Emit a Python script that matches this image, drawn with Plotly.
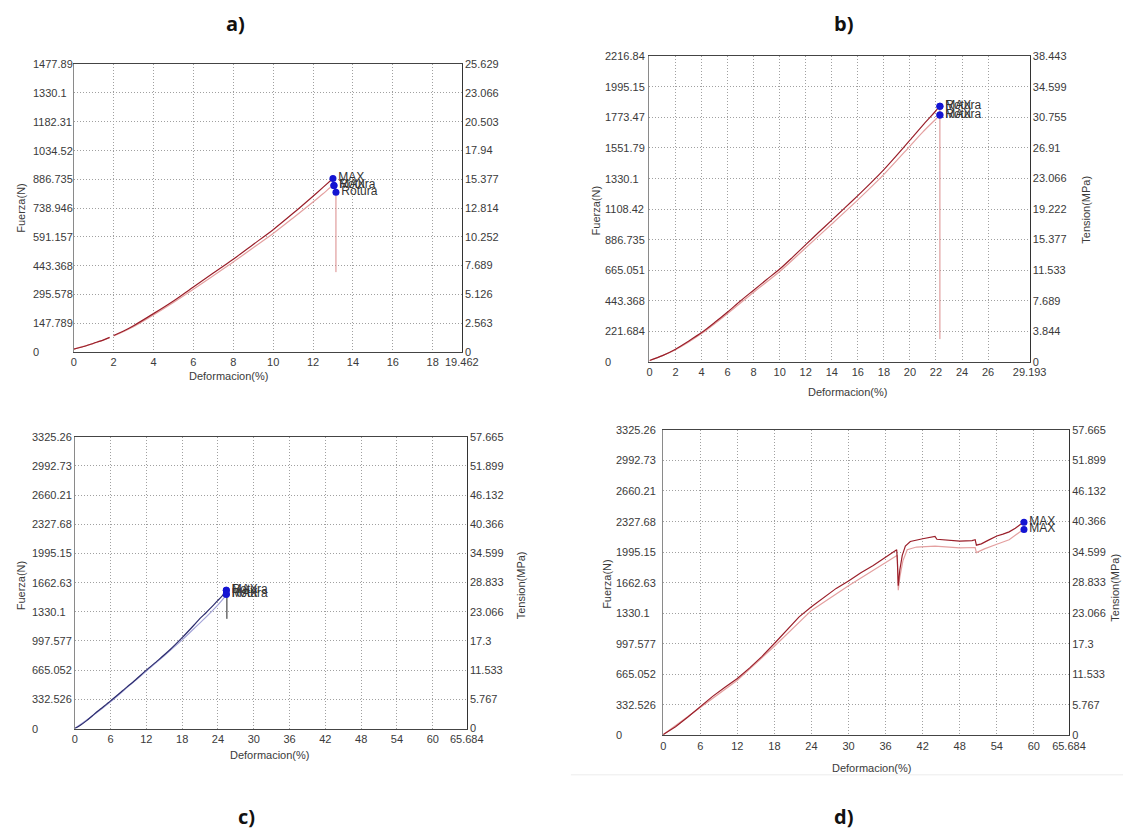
import plotly.graph_objects as go

W, H = 1140, 839

# ---------------- DATA ----------------
# Panel a
a_x_ticks = [0, 2, 4, 6, 8, 10, 12, 14, 16, 18, 19.462]
a_x_text = ["0", "2", "4", "6", "8", "10", "12", "14", "16", "18", "19.462"]
a_yl_text = ["0", "147.789", "295.578", "443.368", "591.157", "738.946", "886.735",
             "1034.52", "1182.31", "1330.1", "1477.89"]
a_yr_text = ["0", "2.563", "5.126", "7.689", "10.252", "12.814", "15.377", "17.94",
             "20.503", "23.066", "25.629"]
a_c1_x = [0, 0.5, 1, 1.5, 1.8, None, 2.0, 2.5, 3, 4, 5, 6, 7, 8, 9, 10, 11, 12, 12.5, 13.0]
a_c1_y = [15, 28, 45, 62, 75, None, 85, 108, 135, 197, 262, 334, 405, 476, 552, 628, 712, 800, 845, 891]
a_c2_x = [0, 1, 1.8, None, 2.0, 3, 4, 5, 6, 7, 8, 9, 10, 11, 12, 12.5, 13.05, 13.15]
a_c2_y = [15, 44, 73, None, 82, 130, 190, 254, 322, 392, 462, 535, 608, 688, 770, 812, 855, 820]
a_drop_x = [13.15, 13.15]
a_drop_y = [820, 410]
a_pts_x = [13.0, 13.05, 13.05, 13.15]
a_pts_y = [891, 855, 855, 820]
a_pts_lbl = ["MAX", "Rotura", "MAX", "Rotura"]

# Panel b
b_x_ticks = [0, 2, 4, 6, 8, 10, 12, 14, 16, 18, 20, 22, 24, 26, 29.193]
b_x_text = ["0", "2", "4", "6", "8", "10", "12", "14", "16", "18", "20", "22", "24", "26", "29.193"]
b_yl_text = ["0", "221.684", "443.368", "665.051", "886.735", "1108.42", "1330.1",
             "1551.79", "1773.47", "1995.15", "2216.84"]
b_yr_text = ["0", "3.844", "7.689", "11.533", "15.377", "19.222", "23.066", "26.91",
             "30.755", "34.599", "38.443"]
b_c1_x = [0, 1, 2, 3, 4, 5, 6, 7, 8, 9, 10, 11, 12, 13, 14, 15, 16, 17, 18, 19, 20, 21, 22, 22.25]
b_c1_y = [10, 45, 92, 150, 212, 285, 362, 443, 520, 597, 673, 760, 850, 940, 1028, 1117,
          1206, 1298, 1395, 1500, 1608, 1718, 1822, 1855]
b_c2_x = [0, 2, 4, 6, 8, 10, 12, 14, 16, 18, 20, 21, 22, 22.3]
b_c2_y = [8, 88, 205, 350, 505, 655, 828, 1000, 1175, 1360, 1565, 1668, 1762, 1790]
b_drop_x = [22.3, 22.3]
b_drop_y = [1855, 165]
b_pts_x = [22.3, 22.3, 22.3, 22.3]
b_pts_y = [1855, 1855, 1790, 1790]
b_pts_lbl = ["Rotura", "MAX", "Rotura", "MAX"]

# Panels c & d share scales
cd_x_ticks = [0, 6, 12, 18, 24, 30, 36, 42, 48, 54, 60, 65.684]
cd_x_text = ["0", "6", "12", "18", "24", "30", "36", "42", "48", "54", "60", "65.684"]
cd_yl_text = ["0", "332.526", "665.052", "997.577", "1330.1", "1662.63", "1995.15",
              "2327.68", "2660.21", "2992.73", "3325.26"]
cd_yr_text = ["0", "5.767", "11.533", "17.3", "23.066", "28.833", "34.599", "40.366",
              "46.132", "51.899", "57.665"]

c_c1_x = [0, 1, 2, 3, 4, 6, 8, 10, 12, 14, 16, 18, 20, 21, 22, 23, 24, 25, 25.4]
c_c1_y = [0, 40, 90, 148, 205, 315, 430, 545, 665, 780, 900, 1035, 1180, 1255, 1320, 1390, 1460, 1535, 1576]
c_c2_x = [0, 3, 6, 9, 12, 15, 18, 20, 22, 24, 25, 25.4]
c_c2_y = [0, 145, 305, 480, 655, 830, 1010, 1140, 1270, 1410, 1490, 1531]
c_drop_x = [25.5, 25.5]
c_drop_y = [1531, 1250]
c_pts_x = [25.4, 25.4, 25.4, 25.4]
c_pts_y = [1576, 1576, 1531, 1531]
c_pts_lbl = ["Rotura", "MAX", "Rotura", "MAX"]

d_c1_x = [0, 2, 4, 6, 8, 10, 12, 14, 16, 18, 20, 22, 24, 26, 28, 30, 32, 34, 36, 37.8, 37.9,
          38.05, 38.3, 38.7, 39.2, 40, 42, 43.5, 44, 44.3, 46, 48, 50, 50.5, 50.7, 51.5, 52.5,
          54, 55, 56, 57, 58.3]
d_c1_y = [10, 95, 200, 315, 425, 525, 620, 735, 860, 1000, 1150, 1290, 1400, 1500, 1600, 1680,
          1770, 1850, 1940, 2020, 1900, 1630, 1800, 1960, 2060, 2110, 2140, 2160, 2165, 2135,
          2125, 2115, 2120, 2130, 2070, 2085, 2120, 2170, 2190, 2215, 2255, 2320]
d_c2_x = [0, 6, 12, 18, 24, 30, 36, 37.9, 38.05, 38.3, 38.8, 39.5, 41, 44, 48, 50.5, 50.7,
          52, 54, 56, 58.3]
d_c2_y = [8, 305, 600, 970, 1360, 1630, 1880, 1960, 1580, 1720, 1900, 2020, 2050, 2060, 2040,
          2045, 1990, 2030, 2080, 2130, 2242]
d_pts_x = [58.4, 58.4]
d_pts_y = [2320, 2242]
d_pts_lbl = ["MAX", "MAX"]

# ---------------- LAYOUT HELPERS ----------------
def fx(p):
    return p / W

def fy(p):
    return 1 - p / H

DARK_RED = "#9a1f2a"
LIGHT_RED = "#e4a0a0"
DROP_RED = "#d98a8a"
DARK_BLUE = "#2c2c6e"
LIGHT_BLUE = "#a4a4d8"
MARK = "#1414d2"
GRID = "#a0a0a0"
GDASH = "1px,2px"
TICKFONT = dict(family="Liberation Sans, Arial, sans-serif", size=11, color="#3a3a3a")

panels = [
    dict(box=(72, 59, 467, 351), xmax=19.462, yl=1477.89, yr=25.629,
         xt=a_x_ticks, xtt=a_x_text, ylt=a_yl_text, yrt=a_yr_text, lblx=29),
    dict(box=(658, 51, 1045, 361), xmax=29.193, yl=2216.84, yr=38.443,
         xt=b_x_ticks, xtt=b_x_text, ylt=b_yl_text, yrt=b_yr_text, lblx=611),
    dict(box=(73, 437, 472, 733), xmax=65.684, yl=3325.26, yr=57.665,
         xt=cd_x_ticks, xtt=cd_x_text, ylt=cd_yl_text, yrt=cd_yr_text, lblx=27),
    dict(box=(672, 430, 1085, 740), xmax=65.684, yl=3325.26, yr=57.665,
         xt=cd_x_ticks, xtt=cd_x_text, ylt=cd_yl_text, yrt=cd_yr_text, lblx=622),
]

fig = go.Figure()
layout = dict(width=W, height=H, margin=dict(l=0, r=0, t=0, b=0),
              paper_bgcolor="white", plot_bgcolor="white", showlegend=False)
annotations = []

for i, p in enumerate(panels):
    l, t, r, b = p["box"]
    xn = "xaxis" if i == 0 else f"xaxis{i+1}"
    yln = "yaxis" if i == 0 else f"yaxis{2*i+1}"
    yrn = f"yaxis{2*i+2}"
    xid = "x" if i == 0 else f"x{i+1}"
    ylid = "y" if i == 0 else f"y{2*i+1}"
    yrid = f"y{2*i+2}"
    ystep = p["yl"] / 10
    yvals = [ystep * k for k in range(11)]
    yrstep = p["yr"] / 10
    yrvals = [yrstep * k for k in range(11)]
    layout[xn] = dict(domain=[fx(l), fx(r)], anchor=ylid, range=[0, p["xmax"]],
                      tickmode="array", tickvals=p["xt"], ticktext=p["xtt"],
                      showgrid=True, gridcolor=GRID, griddash=GDASH, gridwidth=1,
                      zeroline=False, showline=True, linecolor="#444", linewidth=1,
                      mirror=True, ticks="", tickfont=TICKFONT, fixedrange=True)
    layout[yln] = dict(domain=[fy(b), fy(t)], anchor=xid, range=[0, p["yl"]],
                       tickmode="array", tickvals=yvals, showticklabels=False,
                       showgrid=True, gridcolor=GRID, griddash=GDASH, gridwidth=1,
                       zeroline=False, showline=True, linecolor="#8a8a8a", linewidth=1,
                       ticks="", fixedrange=True)
    layout[yrn] = dict(overlaying=ylid, anchor=xid, side="right", range=[0, p["yr"]],
                       tickmode="array", tickvals=yrvals, ticktext=p["yrt"],
                       showgrid=False, zeroline=False, showline=True, linecolor="#333",
                       linewidth=1, ticks="", tickfont=TICKFONT, fixedrange=True)
    # invisible trace so the right-hand axis is drawn
    fig.add_trace(go.Scatter(x=[0], y=[0], mode="markers", marker=dict(opacity=0),
                             xaxis=xid, yaxis=yrid, hoverinfo="skip"))
    for v, txt_ in zip(yvals, p["ylt"]):
        annotations.append(dict(xref="paper", yref=ylid, x=fx(p["lblx"]), y=v, text=txt_,
                                showarrow=False, xanchor="left", yanchor="middle",
                                font=TICKFONT))

# traces
def line(x, y, color, xa, ya, width=1.2, shape="linear"):
    fig.add_trace(go.Scatter(x=x, y=y, mode="lines",
                             line=dict(color=color, width=width, shape=shape, smoothing=0.8),
                             connectgaps=False, xaxis=xa, yaxis=ya, hoverinfo="skip"))

def pts(x, y, lbl, xa, ya):
    for xi, yi, li in zip(x, y, lbl):
        fig.add_trace(go.Scatter(x=[xi], y=[yi], mode="markers+text", text=[li],
                                 textposition="middle right",
                                 textfont=dict(family="Liberation Sans, Arial, sans-serif",
                                               size=12, color="#333"),
                                 marker=dict(color=MARK, size=7), xaxis=xa, yaxis=ya,
                                 hoverinfo="skip"))

# a
line(a_c2_x, a_c2_y, LIGHT_RED, "x", "y", shape="spline")
line(a_c1_x, a_c1_y, DARK_RED, "x", "y", shape="spline")
line(a_drop_x, a_drop_y, DROP_RED, "x", "y", 1)
pts(a_pts_x, a_pts_y, a_pts_lbl, "x", "y")
# b
line(b_c2_x, b_c2_y, LIGHT_RED, "x2", "y3", shape="spline")
line(b_c1_x, b_c1_y, DARK_RED, "x2", "y3", shape="spline")
line(b_drop_x, b_drop_y, DROP_RED, "x2", "y3", 1)
pts(b_pts_x, b_pts_y, b_pts_lbl, "x2", "y3")
# c
line(c_c2_x, c_c2_y, LIGHT_BLUE, "x3", "y5", shape="spline")
line(c_c1_x, c_c1_y, DARK_BLUE, "x3", "y5", shape="spline")
line(c_drop_x, c_drop_y, "#222", "x3", "y5", 1)
pts(c_pts_x, c_pts_y, c_pts_lbl, "x3", "y5")
# d
line(d_c2_x, d_c2_y, LIGHT_RED, "x4", "y7")
line(d_c1_x, d_c1_y, DARK_RED, "x4", "y7")
pts(d_pts_x, d_pts_y, d_pts_lbl, "x4", "y7")

# axis titles & panel titles
TITLEFONT = dict(family="Liberation Sans, Arial, sans-serif", size=11, color="#3a3a3a")
def txt(x, y, s, font, angle=0):
    annotations.append(dict(xref="paper", yref="paper", x=fx(x), y=fy(y), text=s,
                            showarrow=False, xanchor="center", yanchor="middle",
                            textangle=angle, font=font))

txt(230, 375, "Deformacion(%)", TITLEFONT)
txt(860, 392, "Deformacion(%)", TITLEFONT)
txt(271, 760, "Deformacion(%)", TITLEFONT)
txt(884, 773, "Deformacion(%)", TITLEFONT)
txt(18, 205, "Fuerza(N)", TITLEFONT, -90)
txt(604, 207, "Fuerza(N)", TITLEFONT, -90)
txt(18, 588, "Fuerza(N)", TITLEFONT, -90)
txt(614, 586, "Fuerza(N)", TITLEFONT, -90)
txt(1102, 207, "Tension(MPa)", TITLEFONT, -90)
txt(527, 588, "Tension(MPa)", TITLEFONT, -90)
txt(1131, 590, "Tension(MPa)", TITLEFONT, -90)

BIG = dict(family="Open Sans, sans-serif", size=20, color="#111")
txt(237, 18, "<b>a)</b>", BIG)
txt(856, 18, "<b>b)</b>", BIG)
txt(248, 822, "<b>c)</b>", BIG)
txt(856, 822, "<b>d)</b>", BIG)

layout["annotations"] = annotations
layout["shapes"] = [dict(type="line", xref="paper", yref="paper", x0=fx(578), x1=1,
                         y0=fy(780), y1=fy(780), line=dict(color="#ececec", width=1))]
fig.update_layout(**layout)
fig.write_html("out.html")
